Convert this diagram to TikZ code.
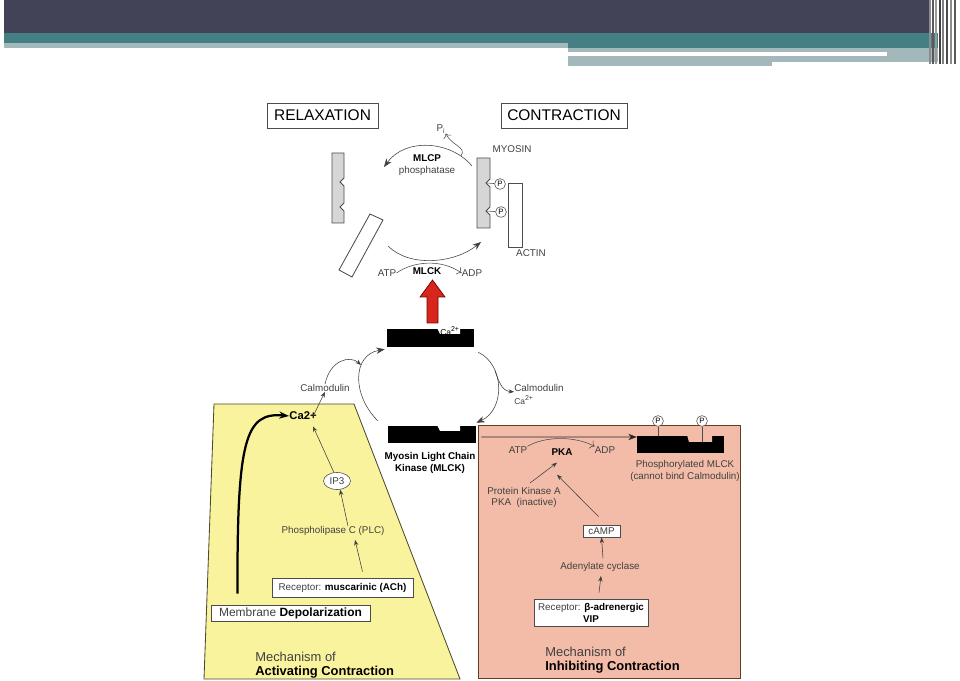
\documentclass[tikz,border=0pt]{standalone}
\usepackage{fontspec}
\setmainfont{Liberation Sans}
\usepackage{tikz}
\usetikzlibrary{positioning,shapes.geometric,arrows.meta}

\definecolor{hdrdark}{HTML}{424357}
\definecolor{hdrteal}{HTML}{437F83}
\definecolor{hdrlight}{HTML}{A3B8BA}
\definecolor{actyellow}{HTML}{FAF39E}
\definecolor{inhpink}{HTML}{F3BCA8}
\definecolor{txtgray}{HTML}{404040}
\definecolor{myogray}{HTML}{D6D6D6}
\definecolor{arrowred}{HTML}{D8261C}

\tikzset{
    lbl/.style={font=\fontsize{7}{8}\selectfont, text=txtgray, inner sep=0pt, align=center},
    blbl/.style={font=\fontsize{7}{8}\selectfont\bfseries, text=black, inner sep=0pt, align=center},
    titlebox/.style={draw=black!70, line width=0.6pt, font=\fontsize{11}{12}\selectfont, inner sep=0pt, minimum height=0.625cm},
    recbox/.style={draw=black!70, line width=0.6pt, fill=white, font=\fontsize{7}{8.5}\selectfont, text=txtgray, inner sep=0pt, align=center},
    mech/.style={font=\fontsize{9.2}{10}\selectfont, text=txtgray, align=left, anchor=west, inner sep=0pt},
    pcirc/.style={circle, draw=black!70, fill=white, inner sep=0pt, minimum size=0.27cm, font=\fontsize{5.5}{6}\selectfont},
    bar/.style={fill=black, inner sep=0pt},
    myo/.style={fill=myogray, draw=black!70, line width=0.6pt},
    fil/.style={fill=white, draw=black!70, line width=0.6pt},
    cyc/.style={-{Stealth[length=6pt,width=4.5pt]}, black!75},
    sarr/.style={-{Stealth[length=4pt,width=3pt]}, black!75},
    opn/.style={-{To[length=3pt]}, black!70},
}

\begin{document}
\begin{tikzpicture}[x=0.025cm, y=-0.025cm]
    \useasboundingbox (0,0) rectangle (960,681);

    \fill[hdrdark] (4,0) rectangle (930,33);
    \fill[hdrteal] (4,33) rectangle (938,43);
    \fill[hdrteal] (568,43) rectangle (938,48);
    \fill[hdrlight] (4,43) rectangle (568,48);
    \fill[hdrlight] (568,48) rectangle (938,62);
    \fill[hdrlight] (568,62) rectangle (772,66);
    \fill[white] (568,52.5) rectangle (887,56);
    \foreach \x/\c in {930/45, 933/65, 936/40, 940/75, 943/50, 947/70, 951/45, 955/65}
        \draw[black!\c, line width=0.9pt] (\x,0) -- (\x,64);

    \node[titlebox, minimum width=2.775cm] (relax) at (322.5,115.5) {RELAXATION};
    \node[titlebox, minimum width=3.15cm] (contr) at (564,115.5) {CONTRACTION};

    \filldraw[myo] (332,153) -- (344,153) -- (344,178) -- (340,182) -- (344,186) -- (344,203) -- (340,207) -- (344,211) -- (344,223) -- (332,223) -- cycle;
    \filldraw[fil] (370,214) -- (383,220) -- (352,277) -- (339,270) -- cycle;
    \filldraw[myo] (477,158) -- (490,158) -- (490,179) -- (486,183) -- (490,187) -- (490,207) -- (486,211) -- (490,215) -- (490,228) -- (477,228) -- cycle;
    \filldraw[fil] (508,183) rectangle (522,247);
    \coordinate (nk1) at (487,183);
    \coordinate (nk2) at (487,211);
    \node[pcirc] (p1) at (500,184) {P};
    \node[pcirc] (p2) at (501,212) {P};
    \draw[black!70] (nk1) -- (p1);
    \draw[black!70] (nk2) -- (p2);

    \node[lbl] (myosin) at (512,149) {MYOSIN};
    \node[lbl] (actin) at (531,253) {ACTIN};
    \node[lbl] (pi) at (441,129) {P\textsubscript{\tiny i}};
    \node[lbl] (mlcp) at (427,165) {\textbf{\textcolor{black}{MLCP}}\\phosphatase};
    \node[lbl] (atp) at (387,273) {ATP};
    \node[blbl] (mlck) at (427,271) {MLCK};
    \node[lbl] (adp) at (472,273) {ADP};

    \draw[cyc] (472,166) .. controls (450,140) and (405,138) .. (384,167);
    \draw[opn] (461,156) .. controls (467,147) and (452,146) .. (pi.south east);
    \draw[cyc] (388,246) .. controls (410,268) and (455,263) .. (481,242);
    \draw[opn] (atp.east) .. controls (412,262) and (440,258) .. (adp.west);

    \filldraw[fill=arrowred, draw=red!45!black, line width=0.5pt] (427,323) -- (427,297) -- (420,297) -- (432.5,280) -- (445,297) -- (438,297) -- (438,323) -- cycle;

    % panels
    \filldraw[fill=actyellow, draw=black!60!olive, line width=0.6pt] (214,404) -- (354,404) -- (460,679) -- (204,679) -- cycle;
    \filldraw[fill=inhpink, draw=black!50!brown, line width=0.6pt] (478,425) rectangle (740,678);

    % calmodulin cycle
    \node[bar, minimum width=2.175cm, minimum height=0.45cm] (calbar) at (430.5,338) {};
    \fill[white] (437,328) -- (440,334) -- (460,334) -- (460,328) -- cycle;
    \node[font=\fontsize{6}{6}\selectfont, inner sep=0pt] (ca) at (450,331) {Ca\textsuperscript{2+}};
    \node[bar, minimum width=2.2cm, minimum height=0.425cm] (mlckbar) at (432,434.5) {};
    \fill[white] (437,425) -- (440,431) -- (460,431) -- (460,425) -- cycle;
    \node[blbl] (mlckname) at (430,463) {Myosin Light Chain\\Kinase (MLCK)};

    \node[lbl] (calmodl) at (325,388) {Calmodulin};
    \node[lbl] (calmodr) at (539,388) {Calmodulin};
    \node[lbl, font=\fontsize{6}{6}\selectfont] (car) at (524,400) {Ca\textsuperscript{2+}};

    \draw[cyc] ([shift={(-10,-5)}]mlckbar.north west) .. controls (352,395) and (352,355) .. ([shift={(-2,2)}]calbar.south west);
    \draw[sarr] (calmodl.north) .. controls (330,360) and (350,355) .. (361,365);
    \draw[cyc] ([shift={(4,5)}]calbar.south east) .. controls (505,365) and (505,410) .. ([shift={(0,-3)}]mlckbar.north east);
    \draw[sarr] (495,371) .. controls (500,385) and (503,391) .. (calmodr.south west);

    % activating contraction
    \node[font=\fontsize{8}{8}\selectfont\bfseries, inner sep=0pt] (ca2) at (303,416) {Ca2+};
    \node[ellipse, draw=black!70, fill=white, minimum width=0.675cm, minimum height=0.425cm, inner sep=0pt, font=\fontsize{7}{8}\selectfont, text=txtgray] (ip3) at (337,481) {IP3};
    \node[lbl] (plc) at (333,531) {Phospholipase C (PLC)};
    \node[recbox, minimum width=3.525cm, minimum height=0.475cm] (rec1) at (342.5,587.5) {Receptor: \textbf{\textcolor{black}{muscarinic (ACh)}}};
    \node[recbox, font=\fontsize{8.5}{9}\selectfont, minimum width=3.975cm, minimum height=0.4cm] (depol) at (290.5,613) {Membrane \textbf{\textcolor{black}{Depolarization}}};
    \node[mech] (mech1) at (255,665) {Mechanism of\\\textbf{\textcolor{black}{Activating Contraction}}};

    \draw[sarr] ([shift={(10,-4)}]ca2.south) -- (calmodl.south);
    \draw[-{Stealth[length=7pt,width=5pt]}, line width=1.6pt] ([shift={(-53,-11)}]depol.north) .. controls (237,440) and (245,412) .. (ca2.west);
    \draw[sarr] (ip3.110) -- ([shift={(10,6)}]ca2.south);
    \draw[sarr] ([shift={(15,0)}]plc.north) -- (ip3.290);
    \draw[sarr] ([shift={(20,-6)}]rec1.north) -- ([shift={(22,4)}]plc.south);

    % inhibiting contraction
    \node[bar, minimum width=2.175cm, minimum height=0.425cm] (phbar) at (680.5,444.5) {};
    \fill[inhpink] (687,435) -- (689,442) -- (712,442) -- (712,435) -- cycle;
    \coordinate (st1) at (658,436);
    \coordinate (st2) at (702,442);
    \node[pcirc] (pp1) at (658,421) {P};
    \node[pcirc] (pp2) at (702,421) {P};
    \draw[black!70] (st1) -- (pp1);
    \draw[black!70] (st2) -- (pp2);
    \node[lbl] (phlbl) at (685,471) {Phosphorylated MLCK\\(cannot bind Calmodulin)};

    \node[lbl] (atpb) at (518,450) {ATP};
    \node[blbl] (pka) at (562,452) {PKA};
    \node[lbl] (adpb) at (605,450) {ADP};
    \node[lbl] (pkainact) at (524,497.5) {Protein Kinase A\\PKA~~(inactive)};
    \node[recbox, minimum width=0.925cm, minimum height=0.3cm] (camp) at (601.5,531) {cAMP};
    \node[lbl] (adenyl) at (600,567) {Adenylate cyclase};
    \node[recbox, minimum width=2.85cm, minimum height=0.675cm] (rec2) at (591,612.5) {Receptor: \textbf{\textcolor{black}{β-adrenergic}}\\\textbf{\textcolor{black}{VIP}}};
    \node[mech] (mech2) at (545,660) {Mechanism of\\\textbf{\textcolor{black}{Inhibiting Contraction}}};

    \draw[cyc, black!85] ([shift={(5,2.5)}]mlckbar.east) -- ([shift={(0,-7.5)}]phbar.west);
    \draw[opn] (atpb.north east) .. controls (545,436) and (575,436) .. (adpb.north west);
    \draw[sarr] ([shift={(6,-4)}]pkainact.north) -- ([shift={(-5,7)}]pka.south);
    \draw[sarr] ([shift={(-3,-8)}]camp.north) -- ([shift={(-5,19)}]pka.south);
    \draw[sarr] ([shift={(3,-4)}]adenyl.north) -- (camp.south);
    \draw[sarr] ([shift={(8,-6)}]rec2.north) -- ([shift={(1,4)}]adenyl.south);
\end{tikzpicture}
\end{document}
